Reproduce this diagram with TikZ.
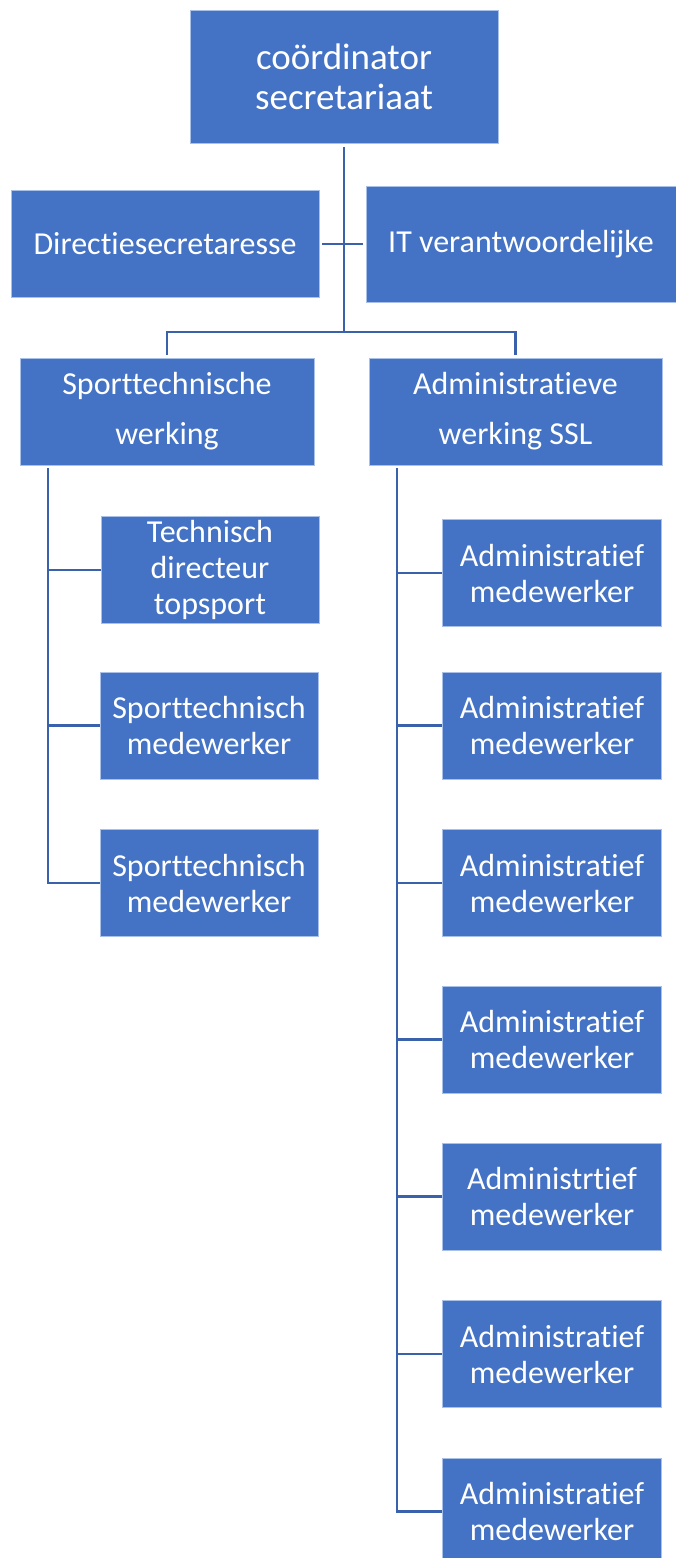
\documentclass[tikz,border=0pt]{standalone}
\usepackage{fontspec}
\setmainfont{Carlito}[Ligatures=CommonOff]
\usetikzlibrary{calc}
\definecolor{boxblue}{HTML}{4472C4}
\definecolor{boxedge}{HTML}{A9C0E8}
\definecolor{linkblue}{HTML}{3A62AC}
\tikzstyle{unit}=[rectangle,fill=boxblue,draw=boxedge,line width=0.8pt,text=white,align=center,inner sep=0pt,font=\fontsize{32}{36}\selectfont]
\tikzstyle{wide}=[unit,minimum width=308pt,minimum height=107pt]
\tikzstyle{small}=[unit,minimum width=219pt,minimum height=107pt]
\tikzstyle{link}=[draw=linkblue,line width=2.6pt]

\begin{document}
\begin{tikzpicture}[x=1pt,y=-1pt]
    \useasboundingbox (0,0) rectangle (676,1558);

    % top of the chart
    \node[wide,minimum height=133pt,font=\fontsize{37}{40}\selectfont] (coord) at (344,76.5) {coördinator\\secretariaat};
    \node[wide] (dirsec) at (165,244) {Directiesecretaresse};
    \node[wide,minimum width=310pt,minimum height=116pt] (itver) at (521,244) {IT verantwoordelijke};

    % the two departments
    \node[wide,minimum width=294pt,font=\fontsize{32}{50}\selectfont] (sport) at (167,411.5) {Sporttechnische\\werking};
    \node[wide,minimum width=293pt,font=\fontsize{32}{50}\selectfont] (admin) at (515.5,411.5) {Administratieve\\werking SSL};

    % staff of the sport department
    \foreach \pos/ \name/ \txt in {{(210,570)/tech/{Technisch\\directeur\\topsport}},
        {(209,725.5)/smwa/{Sporttechnisch\\medewerker}},{(209,883)/smwb/{Sporttechnisch\\medewerker}}}
        \node[small,minimum width=218pt] (\name) at \pos {\txt};

    % staff of the administration
    \foreach \y/ \name/ \txt in {573/adma/Administratief, 725.5/admb/Administratief, 883/admc/Administratief,
        1039.5/admd/Administratief, 1196.5/adme/Administrtief, 1354/admf/Administratief, 1511.5/admg/Administratief}
        \node[small] (\name) at (552,\y) {\txt\\medewerker};

    % connect the top
    \coordinate (bar) at (344,332);
    \draw[link,shorten <=4pt] (coord.south) -- (bar);
    \draw[link,shorten <=3pt,shorten >=3pt] (dirsec.east) -- (itver.west |- dirsec.east);
    \draw[link,shorten <=3pt,shorten >=3pt] (sport.north) |- (bar) -| (admin.north);

    % connect the staff
    \coordinate (sstem) at (48,468);
    \coordinate (astem) at (397,468);
    \draw[link] (sstem) |- (smwb.west);
    \draw[link] (astem) |- (admg.west);
    \foreach \dest in {tech,smwa}
        \path[link] (sstem |- \dest.west) -- (\dest.west);
    \foreach \dest in {adma,admb,admc,admd,adme,admf}
        \path[link] (astem |- \dest.west) -- (\dest.west);
\end{tikzpicture}
\end{document}
